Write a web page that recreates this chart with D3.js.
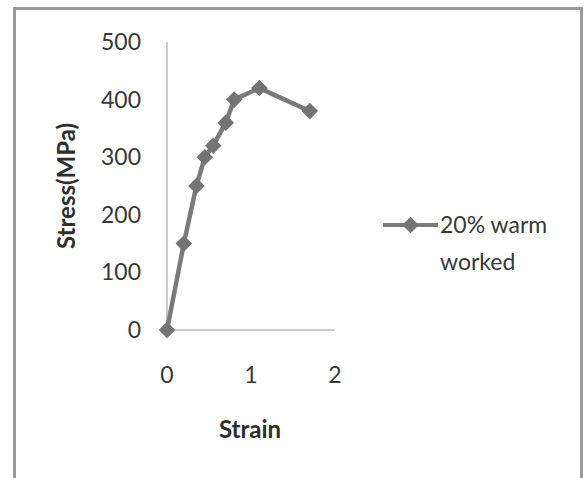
<!DOCTYPE html>
<html>
<head>
<meta charset="utf-8">
<script src="https://cdn.jsdelivr.net/npm/d3@7"></script>
<style>
body{margin:0;background:#fff;}
svg{display:block;font-family:Lato,"Open Sans",sans-serif;}
</style>
</head>
<body>
<svg id="chart" width="585" height="478"></svg>
<script>
const strain=[0,0.2,0.35,0.45,0.55,0.7,0.8,1.1,1.7];
const stress=[0,150,250,300,320,360,400,420,380];
const seriesName=["20% warm","worked"];
const xTicks=[0,1,2];
const yTicks=[0,100,200,300,400,500];

const svg=d3.select("#chart");

// outer frame
svg.append("rect")
    .attr("x",14.5).attr("y",8.5)
    .attr("width",567).attr("height",480)
    .attr("fill","none")
    .attr("stroke","#9a9a9a")
    .attr("stroke-width",3);

const x=d3.scaleLinear().domain([0,2]).range([167,335]);
const y=d3.scaleLinear().domain([0,500]).range([330,42]);

// axis lines
svg.append("line")
    .attr("x1",x(0)).attr("x2",x(0))
    .attr("y1",y(500)).attr("y2",y(0))
    .attr("stroke","#bdbdbd").attr("stroke-width",1.5);
svg.append("line")
    .attr("x1",x(0)).attr("x2",x(2))
    .attr("y1",y(0)).attr("y2",y(0))
    .attr("stroke","#bdbdbd").attr("stroke-width",1.5);

// tick labels
svg.selectAll(".ylab")
    .data(yTicks)
    .enter().append("text")
    .attr("class","ylab")
    .attr("x",141)
    .attr("y",d=>y(d))
    .attr("dy","0.35em")
    .attr("text-anchor","end")
    .attr("font-size",23)
    .attr("fill","#383838")
    .text(d=>d);

svg.selectAll(".xlab")
    .data(xTicks)
    .enter().append("text")
    .attr("class","xlab")
    .attr("x",d=>x(d))
    .attr("y",375)
    .attr("dy","0.35em")
    .attr("text-anchor","middle")
    .attr("font-size",23)
    .attr("fill","#383838")
    .text(d=>d);

// axis titles
svg.append("text")
    .attr("x",250).attr("y",430)
    .attr("dy","0.35em")
    .attr("text-anchor","middle")
    .attr("font-size",24)
    .attr("font-weight","bold")
    .attr("fill","#2e2e2e")
    .text("Strain");

svg.append("text")
    .attr("transform","translate(67,186) rotate(-90)")
    .attr("dy","0.35em")
    .attr("text-anchor","middle")
    .attr("font-size",24)
    .attr("font-weight","bold")
    .attr("fill","#2e2e2e")
    .text("Stress(MPa)");

// series
const pts=strain.map((s,i)=>[s,stress[i]]);
const line=d3.line().x(d=>x(d[0])).y(d=>y(d[1]));
svg.append("path")
    .datum(pts)
    .attr("d",line)
    .attr("fill","none")
    .attr("stroke","#7a7a7a")
    .attr("stroke-width",4.5)
    .attr("stroke-linejoin","round");

const diamond=d3.symbol().type(d3.symbolDiamond2).size(175);
svg.selectAll(".pt")
    .data(pts)
    .enter().append("path")
    .attr("class","pt")
    .attr("transform",d=>`translate(${x(d[0])},${y(d[1])})`)
    .attr("d",diamond)
    .attr("fill","#747474");

// legend
const lg=svg.append("g").attr("transform","translate(383,225)");
lg.append("line")
    .attr("x1",0).attr("x2",55)
    .attr("stroke","#7a7a7a").attr("stroke-width",4);
lg.append("path")
    .attr("transform","translate(27.5,0)")
    .attr("d",diamond)
    .attr("fill","#747474");
lg.selectAll("text")
    .data(seriesName)
    .enter().append("text")
    .attr("x",57)
    .attr("y",(d,i)=>i*37)
    .attr("dy","0.35em")
    .attr("font-size",23)
    .attr("fill","#383838")
    .text(d=>d);
</script>
</body>
</html>
